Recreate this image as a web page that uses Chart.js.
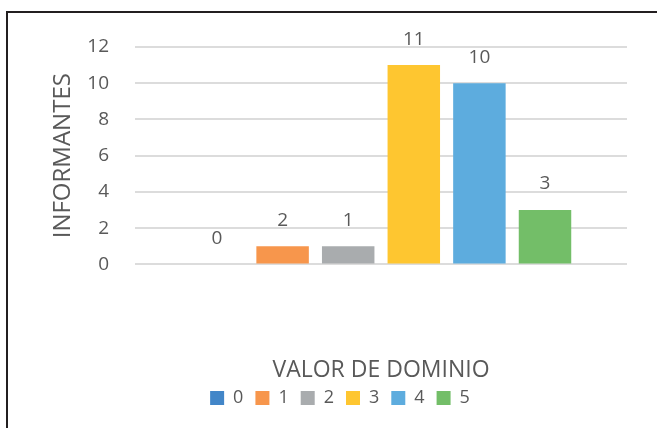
<!DOCTYPE html>
<html>
<head>
<meta charset="utf-8">
<script src="https://cdn.jsdelivr.net/npm/chart.js@4.4.1/dist/chart.umd.min.js"></script>
<style>
  html, body { margin: 0; padding: 0; background: #fff; }
  #wrap { position: relative; width: 657px; height: 428px; overflow: hidden; background: #fff; }
  .linea { position: absolute; background: #231f20; z-index: 2; }
  #lineaSup { left: 6px; top: 11px; width: 651px; height: 2px; }
  #lineaIzq { left: 6px; top: 11px; width: 2px; height: 417px; }
  #grafico { position: absolute; left: 0; top: 0; z-index: 1; }
</style>
</head>
<body>
<div id="wrap">
  <canvas id="grafico" width="657" height="428"></canvas>
  <div class="linea" id="lineaSup"></div>
  <div class="linea" id="lineaIzq"></div>
</div>
<script>
// valores
var series = ['0', '1', '2', '3', '4', '5'];
var valores = [0, 1, 1, 11, 10, 3];
var etiquetas = ['0', '2', '1', '11', '10', '3'];   // tal como aparecen sobre las barras
var ticksY = [0, 2, 4, 6, 8, 10, 12];
var colores = ['#4286C8', '#F7964C', '#A9ACAE', '#FEC630', '#5DACDE', '#73BE68'];

var gris = '#595959';
var fuente = 'Open Sans';

// etiquetas de datos encima de cada barra
var etiquetasPlugin = {
    id: 'etiquetas',
    afterDatasetsDraw: function (chart) {
        var ctx = chart.ctx;
        ctx.save();
        ctx.font = '19px "' + fuente + '"';
        ctx.fillStyle = gris;
        ctx.textAlign = 'center';
        ctx.textBaseline = 'middle';
        chart.data.datasets.forEach(function (ds, i) {
            var bar = chart.getDatasetMeta(i).data[0];
            ctx.fillText(etiquetas[i], bar.x, bar.y - 26);
        });
        ctx.restore();
    }
};

var datasets = series.map(function (nombre, i) {
    return {
        label: nombre,
        data: [valores[i]],
        backgroundColor: colores[i],
        borderWidth: 0,
        categoryPercentage: 0.8,
        barPercentage: 0.8
    };
});

var ctx = document.getElementById('grafico').getContext('2d');
var myChart = new Chart(ctx, {
    type: 'bar',
    data: {
        labels: [''],
        datasets: datasets
    },
    options: {
        responsive: false,
        animation: false,
        layout: { padding: { top: 47, right: 30, left: 53, bottom: 11 } },
        plugins: {
            tooltip: { enabled: false },
            legend: {
                position: 'bottom',
                labels: {
                    boxWidth: 14,
                    boxHeight: 14,
                    padding: 12,
                    color: gris,
                    font: { family: fuente, size: 18 }
                }
            }
        },
        scales: {
            x: {
                grid: { display: false },
                border: { display: false },
                ticks: { display: false },
                title: {
                    display: true,
                    text: 'VALOR DE DOMINIO',
                    color: gris,
                    font: { family: fuente, size: 23 },
                    padding: { top: 84, bottom: -7 }
                }
            },
            y: {
                min: 0,
                max: 12,
                afterBuildTicks: function (scale) {
                    scale.ticks = ticksY.map(function (v) { return { value: v }; });
                },
                afterFit: function (scale) { scale.width = 82; },
                grid: { color: '#dcdcdc', lineWidth: 2, drawTicks: false },
                border: { display: false },
                ticks: {
                    padding: 26,
                    color: gris,
                    font: { family: fuente, size: 19 }
                },
                title: {
                    display: true,
                    text: 'INFORMANTES',
                    color: gris,
                    font: { family: fuente, size: 24 },
                    padding: { top: -4, bottom: 0 }
                }
            }
        }
    },
    plugins: [etiquetasPlugin]
});
</script>
</body>
</html>
